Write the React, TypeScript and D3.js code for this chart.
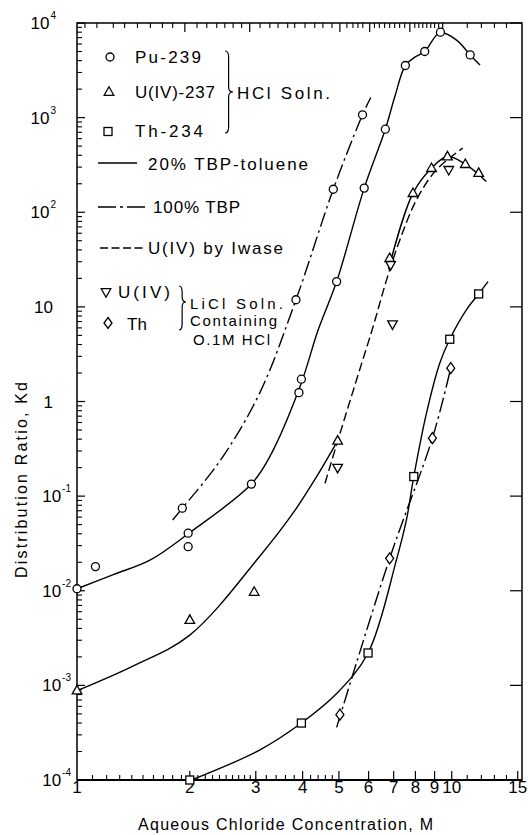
import React from "react";
import * as d3 from "d3";

type P = [number, number];

// ---------- axis tick values ----------
const xTickLabels = [1, 2, 3, 4, 5, 6, 7, 8, 9, 10, 15];
const xMajorBottom = [2, 3, 4, 5, 6, 7, 8, 9, 10, 15];
const xMinorBottom = [
  1.1, 1.2, 1.3, 1.4, 1.5, 1.6, 1.7, 1.8, 1.9,
  2.1, 2.2, 2.3, 2.4, 2.5, 2.6, 2.7, 2.8, 2.9,
  3.2, 3.4, 3.6, 3.8, 4.2, 4.4, 4.6, 4.8,
  11, 12, 13, 14,
];
const xTopMinor = [
  1.05, 1.13, 1.25, 1.34, 1.45, 1.57, 1.69, 1.8, 2.09, 2.22, 2.36, 2.48, 2.61,
  2.75, 3.08, 3.27, 3.44, 3.65, 3.81, 4.06, 4.31, 4.53, 4.79, 5.25, 5.45, 5.62,
  5.79, 6.22, 6.41, 6.62, 6.83, 7.04, 7.26, 7.49, 7.97, 8.17, 8.37, 8.58, 8.79,
  9.0, 9.23, 11, 12, 13, 14,
];
const xTopLong = [1.94, 2.89, 5.03, 6.04, 7.73, 9.46];
const yExps = [-4, -3, -2, -1, 0, 1, 2, 3, 4];

// ---------- data points ----------
const puHclPoints: P[] = [
  [1, 0.0105], [1.12, 0.018], [1.98, 0.0406], [1.98, 0.0292], [2.92, 0.134],
  [3.91, 1.24], [3.97, 1.72], [4.93, 18.5], [5.84, 180], [6.65, 755],
  [7.52, 3556], [8.47, 5000], [9.33, 8000], [11.2, 4600],
  [1.91, 0.0745], [3.84, 11.9], [4.83, 175], [5.78, 1071],
];
const uHclPoints: P[] = [
  [1, 0.00088], [2, 0.0049], [2.97, 0.0097], [4.96, 0.384], [6.83, 32.7],
  [7.88, 159], [8.83, 292], [9.74, 388], [10.87, 322], [11.8, 259],
];
const uLiclPoints: P[] = [[4.96, 0.2], [6.95, 6.56], [6.87, 27.8], [9.82, 281]];
const thHclPoints: P[] = [
  [2, 0.0001], [3.97, 0.0004], [5.98, 0.0022], [7.92, 0.161], [9.88, 4.55], [11.8, 13.7],
];
const thLiclPoints: P[] = [[5.03, 0.00049], [6.83, 0.022], [8.88, 0.41], [9.94, 2.25]];

// ---------- fitted curves ----------
const puTbp20Curve: P[] = [
  [1, 0.0105], [1.25, 0.0148], [1.57, 0.0212], [1.98, 0.04], [2.92, 0.134],
  [3.27, 0.262], [3.94, 1.45], [4.4, 5.7], [4.93, 18.5], [5.84, 180],
  [6.65, 755], [7.05, 1670], [7.52, 3556], [7.97, 4360], [8.47, 5000],
  [9.3, 7900], [10.3, 6600], [11.2, 4600], [11.9, 3600],
];
const puTbp100Curve: P[] = [
  [1.8, 0.056], [1.91, 0.0745], [2.42, 0.243], [3.07, 1.22], [3.84, 11.9],
  [4.83, 175], [5.78, 1071], [6.08, 1633],
];
const uTbp20Lower: P[] = [
  [1, 0.00088], [1.41, 0.0016], [2, 0.0034], [3.07, 0.023], [3.77, 0.066],
  [4.36, 0.161], [4.96, 0.384],
];
const uTbp20Upper: P[] = [
  [6.78, 25], [7.88, 159], [8.83, 292], [9.74, 388], [10.87, 322], [12.37, 211],
];
const iwaseCurve: P[] = [
  [4.59, 0.137], [4.96, 0.38], [5.57, 1.69], [6.17, 6.2], [6.7, 19.3],
  [7.27, 51], [8.05, 135], [9.1, 281], [10.7, 476],
];
const thHclCurve: P[] = [
  [2.02, 0.0001], [3.07, 0.000207], [3.97, 0.0004], [4.93, 0.00082],
  [5.98, 0.0022], [7.12, 0.0212], [7.57, 0.056], [7.92, 0.161], [8.56, 0.75],
  [9.29, 2.54], [9.88, 4.55], [10.94, 9.3], [11.8, 13.7], [12.5, 18.5],
];
const thLiclCurve: P[] = [[4.93, 0.00036], [6.83, 0.022], [8.88, 0.41], [9.94, 2.25]];

// ---------- texts ----------
const xTitle = "Aqueous Chloride Concentration, M";
const yTitle = "Distribution Ratio, Kd";

const W = 528;
const H = 835;
const FONT = "'Liberation Sans', Arial, sans-serif";

const x = d3.scaleLog().domain([1, 15.4]).range([77, 522]);
const y = d3.scaleLog().domain([1e-4, 1e4]).range([780, 23]);

const line = d3
  .line<P>()
  .x((d) => x(d[0]))
  .y((d) => y(d[1]))
  .curve(d3.curveCatmullRom.alpha(0.5));

const DASHDOT = "15 4 2.5 4";
const DASHED = "9 4";

function Circle({ cx, cy }: { cx: number; cy: number }) {
  return <circle cx={cx} cy={cy} r={4} fill="#fff" stroke="#000" strokeWidth={1.3} />;
}
function TriUp({ cx, cy }: { cx: number; cy: number }) {
  return (
    <path
      d={`M${cx},${cy - 5.2}L${cx + 4.8},${cy + 3.3}L${cx - 4.8},${cy + 3.3}Z`}
      fill="#fff"
      stroke="#000"
      strokeWidth={1.3}
    />
  );
}
function TriDown({ cx, cy }: { cx: number; cy: number }) {
  return (
    <path
      d={`M${cx},${cy + 5.2}L${cx + 4.8},${cy - 3.3}L${cx - 4.8},${cy - 3.3}Z`}
      fill="#fff"
      stroke="#000"
      strokeWidth={1.3}
    />
  );
}
function Square({ cx, cy }: { cx: number; cy: number }) {
  return (
    <rect x={cx - 4} y={cy - 4} width={8} height={8} fill="#fff" stroke="#000" strokeWidth={1.3} />
  );
}
function Diamond({ cx, cy }: { cx: number; cy: number }) {
  return (
    <path
      d={`M${cx},${cy - 5.5}L${cx + 4},${cy}L${cx},${cy + 5.5}L${cx - 4},${cy}Z`}
      fill="#fff"
      stroke="#000"
      strokeWidth={1.3}
    />
  );
}

function brace(x0: number, yTop: number, yTip: number, yBot: number, w: number) {
  const xm = x0 + w * 0.45;
  return `M${x0},${yTop} Q${xm},${yTop} ${xm},${yTop + 6} L${xm},${yTip - 5} Q${xm},${yTip} ${x0 + w},${yTip} Q${xm},${yTip} ${xm},${yTip + 5} L${xm},${yBot - 6} Q${xm},${yBot} ${x0},${yBot}`;
}

export default function App() {
  const yMinor: number[] = [];
  for (let e = -4; e < 4; e++) {
    for (let m = 2; m <= 9; m++) yMinor.push(m * Math.pow(10, e));
  }
  const X0 = x.range()[0];
  const X1 = x.range()[1];
  const Y0 = y.range()[0];
  const Y1 = y.range()[1];

  return (
    <svg
      width={W}
      height={H}
      style={{ position: "absolute", left: 0, top: 0, background: "#fff" }}
      fontFamily={FONT}
    >
      <rect x={0} y={0} width={W} height={H} fill="#fff" />

      {/* frame */}
      <rect x={X0} y={Y1} width={X1 - X0} height={Y0 - Y1} fill="none" stroke="#000" strokeWidth={1.5} />
      <line x1={X0} x2={X1} y1={Y0} y2={Y0} stroke="#000" strokeWidth={2} />

      {/* bottom ticks */}
      {xMajorBottom.map((v) => (
        <line key={"bM" + v} x1={x(v)} x2={x(v)} y1={Y0} y2={Y0 - 9} stroke="#000" strokeWidth={1.2} />
      ))}
      {xMinorBottom.map((v) => (
        <line key={"bm" + v} x1={x(v)} x2={x(v)} y1={Y0} y2={Y0 - 5} stroke="#000" strokeWidth={1.1} />
      ))}
      {/* top ticks */}
      {xTopMinor.map((v) => (
        <line key={"tm" + v} x1={x(v)} x2={x(v)} y1={Y1} y2={Y1 + 5} stroke="#000" strokeWidth={1.1} />
      ))}
      {xTopLong.map((v) => (
        <line key={"tM" + v} x1={x(v)} x2={x(v)} y1={Y1} y2={Y1 + 9} stroke="#000" strokeWidth={1.2} />
      ))}
      {/* left ticks */}
      {yMinor.map((v) => (
        <line key={"lm" + v} x1={X0} x2={X0 + 5} y1={y(v)} y2={y(v)} stroke="#000" strokeWidth={1.1} />
      ))}
      {yExps.map((e) => (
        <line key={"lM" + e} x1={X0} x2={X0 + 8} y1={y(Math.pow(10, e))} y2={y(Math.pow(10, e))} stroke="#000" strokeWidth={1.2} />
      ))}
      {/* right ticks */}
      {yExps.map((e) => (
        <line key={"rM" + e} x1={X1} x2={X1 - 12} y1={y(Math.pow(10, e))} y2={y(Math.pow(10, e))} stroke="#000" strokeWidth={1.2} />
      ))}

      {/* x tick labels */}
      {xTickLabels.map((v) => (
        <text key={"xl" + v} x={x(v)} y={Y0 + 13} textAnchor="middle" fontSize={17}>
          {v}
        </text>
      ))}
      {/* y tick labels */}
      {yExps.map((e) => {
        const yy = y(Math.pow(10, e)) + 6;
        if (e === 0 || e === 1) {
          return (
            <text key={"yl" + e} x={53} y={yy} textAnchor="end" fontSize={17}>
              {e === 0 ? "1" : "10"}
            </text>
          );
        }
        return (
          <text key={"yl" + e} x={e < 0 ? 71 : 56} y={yy} textAnchor="end" fontSize={17}>
            10
            <tspan fontSize={10} dx={1} dy={-10}>
              {e < 0 ? "-" + Math.abs(e) : String(e)}
            </tspan>
          </text>
        );
      })}

      {/* axis titles */}
      <text x={285.5} y={830} textAnchor="middle" fontSize={16} textLength={295} lengthAdjust="spacing">
        {xTitle}
      </text>
      <text
        transform="translate(27,480) rotate(-90)"
        textAnchor="middle"
        fontSize={16}
        textLength={196}
        lengthAdjust="spacing"
      >
        {yTitle}
      </text>

      {/* curves */}
      <g fill="none" stroke="#000" strokeWidth={1.4}>
        <path d={line(puTbp20Curve) || ""} />
        <path d={line(puTbp100Curve) || ""} strokeDasharray={DASHDOT} />
        <path d={line(uTbp20Lower) || ""} />
        <path d={line(uTbp20Upper) || ""} />
        <path d={line(iwaseCurve) || ""} strokeDasharray={DASHED} />
        <path d={line(thHclCurve) || ""} />
        <path d={line(thLiclCurve) || ""} strokeDasharray={DASHDOT} />
      </g>

      {/* markers */}
      {puHclPoints.map((d, i) => (
        <Circle key={"pu" + i} cx={x(d[0])} cy={y(d[1])} />
      ))}
      {uHclPoints.map((d, i) => (
        <TriUp key={"u" + i} cx={x(d[0])} cy={y(d[1])} />
      ))}
      {uLiclPoints.map((d, i) => (
        <TriDown key={"ul" + i} cx={x(d[0])} cy={y(d[1])} />
      ))}
      {thHclPoints.map((d, i) => (
        <Square key={"th" + i} cx={x(d[0])} cy={y(d[1])} />
      ))}
      {thLiclPoints.map((d, i) => (
        <Diamond key={"tl" + i} cx={x(d[0])} cy={y(d[1])} />
      ))}

      {/* legend */}
      <g fontSize={17}>
        <Circle cx={110} cy={57} />
        <text x={135} y={63} textLength={66} lengthAdjust="spacing">Pu-239</text>
        <TriUp cx={109} cy={92} />
        <text x={135} y={98} textLength={80} lengthAdjust="spacing">U(IV)-237</text>
        <Square cx={108} cy={131.5} />
        <text x={135} y={137} textLength={68} lengthAdjust="spacing">Th-234</text>
        <path d={brace(225, 51, 92, 133, 8)} fill="none" stroke="#000" strokeWidth={1.2} />
        <text x={237} y={99} textLength={93} lengthAdjust="spacing">HCl Soln.</text>

        <line x1={98} x2={137} y1={163} y2={163} stroke="#000" strokeWidth={1.4} />
        <text x={148} y={169.5} textLength={160} lengthAdjust="spacing">20% TBP-toluene</text>
        <line x1={98} x2={146} y1={207} y2={207} stroke="#000" strokeWidth={1.4} strokeDasharray="18 4 3 4" />
        <text x={153} y={213} textLength={87} lengthAdjust="spacing">100% TBP</text>
        <line x1={100} x2={143} y1={248} y2={248} stroke="#000" strokeWidth={1.4} strokeDasharray="8 3.5" />
        <text x={148} y={253.5} textLength={135} lengthAdjust="spacing">U(IV) by Iwase</text>

        <TriDown cx={106} cy={292} />
        <text x={118} y={298} textLength={52} lengthAdjust="spacing">U(IV)</text>
        <Diamond cx={108} cy={323} />
        <text x={127} y={329.5} textLength={20} lengthAdjust="spacing">Th</text>
        <path d={brace(179, 286, 302, 330, 7)} fill="none" stroke="#000" strokeWidth={1.2} />
      </g>
      <g fontSize={15}>
        <text x={190} y={309} textLength={93} lengthAdjust="spacing">LiCl Soln.</text>
        <text x={190} y={326} textLength={87} lengthAdjust="spacing">Containing</text>
        <text x={193} y={345} textLength={77} lengthAdjust="spacing">O.1M HCl</text>
      </g>
    </svg>
  );
}
